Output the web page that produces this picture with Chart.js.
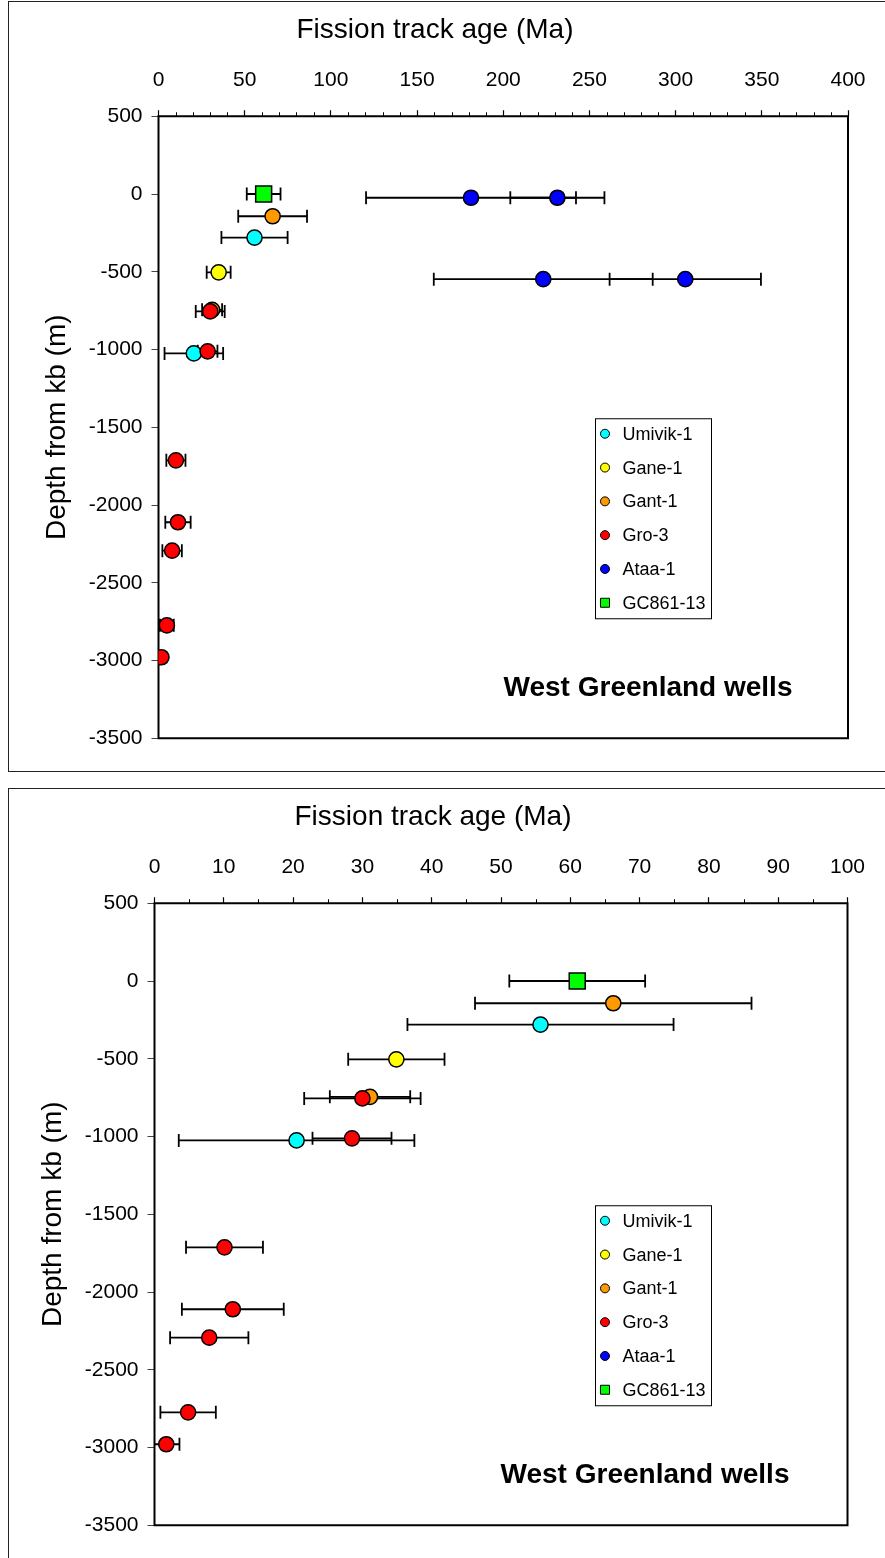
<!DOCTYPE html>
<html>
<head>
<meta charset="utf-8">
<title>West Greenland wells</title>
<script src="https://cdn.jsdelivr.net/npm/chart.js@4.4.1/dist/chart.umd.min.js"></script>
<style>
  html, body { margin: 0; padding: 0; background: #fff; }
  body { position: relative; width: 885px; height: 1558px; overflow: hidden; }
  canvas { position: absolute; left: 0; }
  #wide { top: 0; }
  #young { top: 787px; }
</style>
</head>
<body>
<canvas id="wide" width="885" height="787"></canvas>
<canvas id="young" width="885" height="771"></canvas>
<script>
// fission track ages (Ma), 1-sigma errors (Ma) and depth below kb (m)
const wellNames = ['Umivik-1', 'Gane-1', 'Gant-1', 'Gro-3', 'Ataa-1', 'GC861-13'];
const wellColors = ['#00ffff', '#ffff00', '#ff9900', '#ff0000', '#0000ff', '#00ff00'];

const umivikAge = [55.7, 20.5];
const umivikErr = [19.2, 17.0];
const umivikDepth = [-280, -1025];

const ganeAge = [34.9];
const ganeErr = [6.95];
const ganeDepth = [-504];

const gantAge = [66.2, 31.1];
const gantErr = [19.95, 5.8];
const gantDepth = [-143, -745];

const groAge = [30.0, 28.5, 10.1, 11.3, 7.9, 4.85, 1.7];
const groErr = [8.4, 5.7, 5.55, 7.35, 5.65, 4.0, 1.9];
const groDepth = [-755, -1012, -1713, -2111, -2294, -2774, -2979];

const ataaAge = [181.3, 231.4, 223.2, 305.6];
const ataaErr = [60.9, 27.3, 63.5, 43.9];
const ataaDepth = [-24, -24, -548, -548];

const gcAge = [61.0];
const gcErr = [9.8];
const gcDepth = [0];

const depthTicks = [500, 0, -500, -1000, -1500, -2000, -2500, -3000, -3500];

const series = [
  [umivikAge, umivikErr, umivikDepth],
  [ganeAge, ganeErr, ganeDepth],
  [gantAge, gantErr, gantDepth],
  [groAge, groErr, groDepth],
  [ataaAge, ataaErr, ataaDepth],
  [gcAge, gcErr, gcDepth]
];

const FONT = '"Liberation Sans", Arial, sans-serif';

// horizontal error bars with end caps, drawn under the markers
const errorBars = {
  id: 'errorBars',
  beforeDatasetsDraw(chart) {
    const {ctx, chartArea: ca, scales: {x, y}} = chart;
    ctx.save();
    ctx.beginPath();
    ctx.rect(ca.left, ca.top, ca.right - ca.left, ca.bottom - ca.top);
    ctx.clip();
    ctx.strokeStyle = '#000';
    ctx.lineWidth = 1.8;
    chart.data.datasets.forEach(ds => {
      ds.data.forEach(p => {
        const x1 = x.getPixelForValue(p.x - p.err);
        const x2 = x.getPixelForValue(p.x + p.err);
        const py = y.getPixelForValue(p.y);
        ctx.beginPath();
        ctx.moveTo(x1, py); ctx.lineTo(x2, py);
        ctx.moveTo(x1, py - 6.5); ctx.lineTo(x1, py + 6.5);
        ctx.moveTo(x2, py - 6.5); ctx.lineTo(x2, py + 6.5);
        ctx.stroke();
      });
    });
    ctx.restore();
  }
};

// plot frame, minor ticks and title of the age axis, outer box
const frame = {
  id: 'frame',
  beforeDatasetsDraw(chart, args, opts) {
    const {ctx, chartArea: ca, scales: {x}} = chart;
    ctx.save();
    ctx.strokeStyle = '#000';
    ctx.lineWidth = 1;
    for (let v = opts.minor; v < x.max; v += opts.minor) {
      if (Math.abs(v / opts.major - Math.round(v / opts.major)) < 1e-6) continue;
      const px = Math.round(x.getPixelForValue(v)) + 0.5;
      ctx.beginPath();
      ctx.moveTo(px, ca.top - 4);
      ctx.lineTo(px, ca.top);
      ctx.stroke();
    }
    ctx.lineWidth = 2;
    ctx.strokeRect(ca.left, ca.top, ca.right - ca.left, ca.bottom - ca.top);
    ctx.restore();
  },
  afterDraw(chart, args, opts) {
    const ctx = chart.ctx;
    ctx.save();
    ctx.strokeStyle = '#222';
    ctx.lineWidth = 1;
    ctx.strokeRect(8.5, 1.5, 1000, opts.boxHeight);
    ctx.fillStyle = '#000';
    ctx.font = '28px ' + FONT;
    ctx.textAlign = 'center';
    ctx.textBaseline = 'middle';
    ctx.fillText('Fission track age (Ma)', opts.titleX, 30);
    ctx.restore();
  }
};

// boxed legend and caption inside the plot
const wellLegend = {
  id: 'wellLegend',
  afterDraw(chart, args, opts) {
    const {ctx, chartArea: ca} = chart;
    const lx = opts.x, ly = ca.top + 302.5, lw = 116, lh = 200;
    ctx.save();
    ctx.fillStyle = '#fff';
    ctx.fillRect(lx, ly, lw, lh);
    ctx.strokeStyle = '#000';
    ctx.lineWidth = 1;
    ctx.strokeRect(lx, ly, lw, lh);
    ctx.font = '18px ' + FONT;
    ctx.textBaseline = 'middle';
    ctx.textAlign = 'left';
    chart.data.datasets.forEach((ds, i) => {
      const cy = ly + 15 + i * 33.8;
      const cx = lx + 9.5;
      ctx.fillStyle = ds.backgroundColor;
      ctx.strokeStyle = '#000';
      ctx.lineWidth = 1;
      ctx.beginPath();
      if (ds.pointStyle === 'rect') ctx.rect(cx - 4.5, cy - 4.5, 9, 9);
      else ctx.arc(cx, cy, 4.5, 0, Math.PI * 2);
      ctx.fill();
      ctx.stroke();
      ctx.fillStyle = '#000';
      ctx.fillText(ds.label, lx + 27, cy + 1);
    });
    ctx.font = 'bold 28px ' + FONT;
    ctx.textAlign = 'center';
    ctx.fillText('West Greenland wells', opts.captionX, ca.bottom - 50);
    ctx.restore();
  }
};

function makeChart(id, cfg) {
  const datasets = wellNames.map((name, i) => {
    const [age, err, depth] = series[i];
    const square = name === 'GC861-13';
    return {
      label: name,
      data: age.map((a, j) => ({x: a, y: depth[j], err: err[j]})),
      order: wellNames.length - i,
      pointStyle: square ? 'rect' : 'circle',
      pointRadius: square ? 11.3 : 7.6,
      pointHoverRadius: square ? 11.3 : 7.6,
      backgroundColor: wellColors[i],
      borderColor: '#000',
      borderWidth: 1.5
    };
  });

  const canvas = document.getElementById(id);
  return new Chart(canvas, {
    type: 'scatter',
    data: {datasets},
    plugins: [errorBars, frame, wellLegend],
    options: {
      responsive: false,
      animation: false,
      layout: {
        padding: {left: 0, top: 0, right: canvas.width - cfg.right, bottom: canvas.height - 738.25}
      },
      plugins: {
        legend: {display: false},
        tooltip: {enabled: false},
        frame: {minor: cfg.minor, major: cfg.step, boxHeight: cfg.boxHeight, titleX: cfg.titleX},
        wellLegend: {x: 595.5, captionX: cfg.captionX}
      },
      scales: {
        x: {
          type: 'linear',
          position: 'top',
          min: 0,
          max: cfg.max,
          afterFit(s) { s.height = 116.25; },
          ticks: {
            stepSize: cfg.step,
            padding: 17,
            color: '#000',
            font: {family: FONT, size: 21},
            maxRotation: 0
          },
          grid: {drawOnChartArea: false, drawTicks: true, tickLength: 6, tickColor: '#000', tickWidth: 1.2},
          border: {display: false}
        },
        y: {
          type: 'linear',
          position: 'left',
          min: -3500,
          max: 500,
          afterFit(s) { s.width = cfg.left; },
          afterBuildTicks(s) { s.ticks = depthTicks.map(v => ({value: v})); },
          ticks: {
            padding: 9,
            color: '#000',
            font: {family: FONT, size: 21},
            callback: v => String(v)
          },
          grid: {drawOnChartArea: false, drawTicks: true, tickLength: 7, tickColor: '#444', tickWidth: 1},
          border: {display: false},
          title: {
            display: true,
            text: 'Depth from kb (m)',
            color: '#000',
            font: {family: FONT, size: 28},
            padding: {top: cfg.yTitleX - 16.8, bottom: 0}
          }
        }
      }
    }
  });
}

makeChart('wide', {max: 400, step: 50, minor: 10, left: 158.5, right: 848, yTitleX: 57, titleX: 435, captionX: 648, boxHeight: 770});
makeChart('young', {max: 100, step: 10, minor: 5, left: 154.5, right: 847.5, yTitleX: 53, titleX: 433, captionX: 645, boxHeight: 1000});
</script>
</body>
</html>
